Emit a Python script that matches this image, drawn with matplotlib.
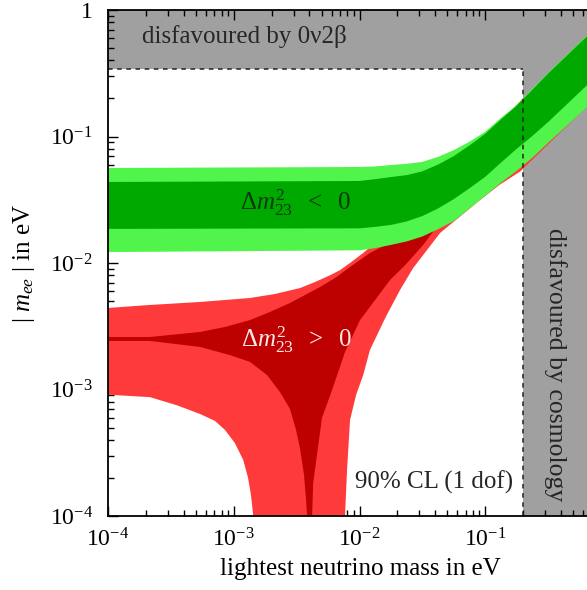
import matplotlib
matplotlib.use("Agg")
import matplotlib.pyplot as plt
from matplotlib.ticker import FixedLocator, FixedFormatter, LogLocator, NullFormatter

plt.rcParams['font.family'] = ['Liberation Serif', 'DejaVu Serif']
plt.rcParams['mathtext.fontset'] = 'custom'
plt.rcParams['mathtext.rm'] = 'Liberation Serif'
plt.rcParams['mathtext.it'] = 'Liberation Serif:italic'

# ---- limits (eV) ----
limit_0v2b = 0.34
limit_cosmo = 0.2

# ---- inverted ordering (dm23 < 0), green bands ----
m_inv = [1e-4, 1e-2, 1.33e-2, 1.78e-2, 2.37e-2, 3.16e-2, 4.22e-2, 5.62e-2, 7.5e-2,
         0.1, 0.133, 0.178, 0.237, 0.316, 0.646, 1.0]
inv_wide_hi = [0.0564, 0.0574, 0.058, 0.0595, 0.0608, 0.063, 0.069, 0.078, 0.091,
               0.109, 0.14, 0.177, 0.24, 0.318, 0.634, 0.98]
inv_best_hi = [0.0437, 0.0445, 0.046, 0.0478, 0.0495, 0.053, 0.06, 0.07, 0.085,
               0.105, 0.136, 0.175, 0.234, 0.314, 0.62, 0.96]
inv_best_lo = [0.0186, 0.0188, 0.0193, 0.0200, 0.0213, 0.0235, 0.027, 0.032, 0.039,
               0.048, 0.062, 0.080, 0.101, 0.13, 0.255, 0.39]
inv_wide_lo = [0.0122, 0.0126, 0.0131, 0.0139, 0.0148, 0.0162, 0.0185, 0.0215, 0.027,
               0.034, 0.043, 0.0535, 0.068, 0.089, 0.171, 0.265]

# ---- normal ordering (dm23 > 0), red bands ----
nor_wide_hi_m = [1e-4, 2.16e-4, 5.4e-4, 8.53e-4, 1.35e-3, 2.13e-3, 3.37e-3, 4.44e-3, 5.83e-3,
                 7.02e-3, 8.41e-3, 1.07e-2, 1.4e-2, 2e-2, 5e-2, 0.1, 0.2, 0.5, 1.0]
nor_wide_hi = [0.00441, 0.00466, 0.00492, 0.0051, 0.00529, 0.00569, 0.00634, 0.00708, 0.0080,
               0.0088, 0.0100, 0.0120, 0.015, 0.021, 0.05, 0.1, 0.2, 0.49, 0.97]
nor_wide_lo_m = [1e-4, 2.16e-4, 3.54e-4, 5.4e-4, 7.1e-4, 8.53e-4, 1.02e-3, 1.19e-3, 1.30e-3,
                 1.37e-3, 1.43e-3, 1.46e-3, 7.6e-3, 7.67e-3, 7.96e-3, 8.41e-3, 9.39e-3,
                 1.07e-2, 1.21e-2, 1.6e-2, 2.1e-2, 2.67e-2, 4.38e-2, 9.1e-2, 0.13, 0.19,
                 0.5, 1.0]
nor_wide_lo = [9.1e-4, 8.7e-4, 7.5e-4, 6.4e-4, 5.64e-4, 4.78e-4, 3.78e-4, 2.77e-4, 2.0e-4,
               1.47e-4, 1.0e-4, 1e-6, 1e-6, 1.0e-4, 2.31e-4, 5.74e-4, 9.05e-4,
               1.30e-3, 2.05e-3, 3.67e-3, 6.12e-3, 9.12e-3, 1.73e-2, 3.15e-2, 0.0415, 0.053,
               0.135, 0.26]

nor_best_hi_m = [1e-4, 2.16e-4, 5.4e-4, 8.53e-4, 1.35e-3, 1.94e-3, 2.8e-3, 3.69e-3, 4.86e-3,
                 6.39e-3, 8.41e-3, 1.21e-2, 1.75e-2, 3e-2, 0.1, 1.0]
nor_best_hi = [0.0026, 0.0026, 0.00285, 0.00312, 0.00354, 0.0041, 0.00483, 0.00558, 0.00646,
               0.0076, 0.0093, 0.0120, 0.0145, 0.03, 0.1, 0.96]
nor_best_lo_m = [1e-4, 2.16e-4, 5.4e-4, 9.35e-4, 1.35e-3, 1.84e-3, 2.33e-3, 2.8e-3, 3.13e-3,
                 3.37e-3, 3.62e-3, 3.76e-3, 3.83e-3, 3.95e-3, 4.1e-3, 4.2e-3, 4.28e-3,
                 5.03e-3, 6.05e-3, 7.67e-3, 1.01e-2, 1.33e-2, 1.75e-2, 2.31e-2, 3.21e-2,
                 5e-2, 0.1, 0.2, 1.0]
nor_best_lo = [2.42e-3, 2.42e-3, 2.17e-3, 1.87e-3, 1.65e-3, 1.30e-3, 9.56e-4, 7.02e-4, 4.78e-4,
               3.39e-4, 2.11e-4, 1.34e-4, 1.0e-4, 1e-6, 1e-6, 1.0e-4, 1.82e-4,
               5.96e-4, 9.9e-4, 1.98e-3, 3.54e-3, 5.10e-3, 7.34e-3, 9.64e-3, 1.39e-2,
               2.5e-2, 4.5e-2, 8.5e-2, 0.4]

xtick_vals = [1e-4, 1e-3, 1e-2, 1e-1, 1.0]
xtick_text = [r'$10^{-4}$', r'$10^{-3}$', r'$10^{-2}$', r'$10^{-1}$', '']
ytick_vals = [1e-4, 1e-3, 1e-2, 1e-1, 1.0]
ytick_text = [r'$10^{-4}$', r'$10^{-3}$', r'$10^{-2}$', r'$10^{-1}$', '1']

GRAY = '#a0a0a0'
LGREEN = '#50f44a'
DGREEN = '#00a900'
LRED = '#ff3a3a'
DRED = '#bd0000'


def band(ax, xu, yu, xl, yl, color, z):
    xs = list(xu) + list(xl)[::-1]
    ys = list(yu) + list(yl)[::-1]
    ax.fill(xs, ys, color=color, lw=0, zorder=z)


fig = plt.figure(figsize=(5.87, 5.90), dpi=100)
W, H = 587.0, 590.0
left, right, top, bottom = 108, 611, 10, 516
ax = fig.add_axes([left / W, 1 - bottom / H, (right - left) / W, (bottom - top) / H])
ax.set_xscale('log')
ax.set_yscale('log')
ax.set_xlim(1e-4, 1.0)
ax.set_ylim(1e-4, 1.0)

# excluded regions
ax.axhspan(limit_0v2b, 1.0, color=GRAY, lw=0, zorder=1)
ax.axvspan(limit_cosmo, 1.0, color=GRAY, lw=0, zorder=1)

# normal ordering
band(ax, nor_wide_hi_m, nor_wide_hi, nor_wide_lo_m, nor_wide_lo, LRED, 2)
band(ax, nor_best_hi_m, nor_best_hi, nor_best_lo_m, nor_best_lo, DRED, 3)
# inverted ordering
band(ax, m_inv, inv_wide_hi, m_inv, inv_wide_lo, LGREEN, 4)
band(ax, m_inv, inv_best_hi, m_inv, inv_best_lo, DGREEN, 5)

# dashed boundaries of the allowed region
ax.plot([1e-4, limit_cosmo], [limit_0v2b, limit_0v2b], color='#222222', ls=(0, (3, 3)), lw=1.1, zorder=6)
ax.plot([limit_cosmo, limit_cosmo], [1e-4, limit_0v2b], color='#222222', ls=(0, (3, 3)), lw=1.1, zorder=6)

ax.text(0.068, 0.935, u'disfavoured by 0\u03bd2\u03b2', transform=ax.transAxes,
        fontsize=18, color='#262626', ha='left', va='baseline', zorder=7)
ax.text(0.889, 0.30, 'disfavoured by cosmology', transform=ax.transAxes,
        fontsize=18.5, color='#262626', rotation=-90, ha='center', va='center', zorder=7)
ax.text(0.805, 0.055, '90% CL (1 dof)', transform=ax.transAxes,
        fontsize=18, color='#262626', ha='right', va='baseline', zorder=7)
ax.text(0.372, 0.62, r'$\Delta m^2_{23}\ \ <\ \ 0$', transform=ax.transAxes,
        fontsize=18, color='#0b3a0b', ha='center', va='center', zorder=7)
ax.text(0.374, 0.348, r'$\Delta m^2_{23}\ \ >\ \ 0$', transform=ax.transAxes,
        fontsize=18, color='#ffe8e8', ha='center', va='center', zorder=7)

ax.xaxis.set_major_locator(FixedLocator(xtick_vals))
ax.xaxis.set_major_formatter(FixedFormatter(xtick_text))
ax.yaxis.set_major_locator(FixedLocator(ytick_vals))
ax.yaxis.set_major_formatter(FixedFormatter(ytick_text))
for a in (ax.xaxis, ax.yaxis):
    a.set_minor_locator(LogLocator(base=10, subs=range(2, 10)))
    a.set_minor_formatter(NullFormatter())
ax.tick_params(which='both', direction='in', top=True, right=True, labelsize=17, width=1.0)
ax.tick_params(axis='x', pad=9)
ax.tick_params(axis='y', pad=11)
ax.tick_params(which='major', length=7)
ax.tick_params(which='minor', length=4)
for s in ax.spines.values():
    s.set_linewidth(1.3)
    s.set_zorder(10)

fig.text(360 / W, 1 - 569 / H, 'lightest neutrino mass in eV', fontsize=18,
         ha='center', va='center')
fig.text(24 / W, 1 - 263 / H, r'$|\ m_{ee}\ |$ in eV', fontsize=18,
         rotation=90, ha='center', va='center')

fig.savefig('out.png', dpi=100)
